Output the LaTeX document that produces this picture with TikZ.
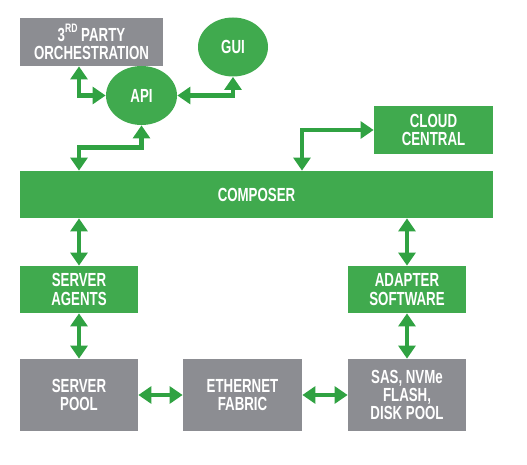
\documentclass[tikz,border=0pt]{standalone}
\usepackage{fontspec}
\setmainfont{Liberation Sans}[FakeStretch=0.70]
\usetikzlibrary{shapes,shapes.geometric,calc,positioning,arrows.meta}
\definecolor{boxgreen}{RGB}{64,170,78}
\definecolor{arrowgreen}{RGB}{48,162,66}
\definecolor{boxgray}{RGB}{140,141,146}

\begin{document}
\begin{tikzpicture}
	[x=1cm,y=-1cm,
	every node/.style={inner sep=1pt,text=white,align=center,
		font=\bfseries\fontsize{10.8}{10.4}\selectfont},
	greenbox/.style={shape=rectangle,fill=boxgreen},
	graybox/.style={shape=rectangle,fill=boxgray},
	bubble/.style={shape=ellipse,fill=boxgreen},
	link/.style={draw=arrowgreen,line width=2.8pt,
		{Triangle[width=9.6pt,length=7.4pt]}-{Triangle[width=9.6pt,length=7.4pt]}}]
	\useasboundingbox (0,0) rectangle (10.54,9.30);
	\node[graybox,minimum width=2.86cm,minimum height=0.96cm] (party) at (1.83,0.84)
		{3\raisebox{0.8ex}{\fontsize{7}{7}\selectfont RD} PARTY\\ORCHESTRATION};
	\node[bubble,minimum width=1.40cm,minimum height=1.18cm] (gui) at (4.66,0.94) {GUI};
	\node[bubble,minimum width=1.42cm,minimum height=1.18cm] (api) at (2.83,1.91) {API};
	\node[greenbox,minimum width=2.38cm,minimum height=0.96cm] (cloud) at (8.67,2.60) {CLOUD\\CENTRAL};
	\node[greenbox,minimum width=9.46cm,minimum height=0.94cm] (composer) at (5.13,3.89) {COMPOSER};
	\node[greenbox,minimum width=2.36cm,minimum height=0.94cm] (agents) at (1.58,5.79) {SERVER\\AGENTS};
	\node[greenbox,minimum width=2.36cm,minimum height=0.94cm] (adapter) at (8.14,5.79) {ADAPTER\\SOFTWARE};
	\node[graybox,minimum width=2.36cm,minimum height=1.44cm] (pool) at (1.58,7.90) {SERVER\\POOL};
	\node[graybox,minimum width=2.38cm,minimum height=1.44cm] (fabric) at (4.85,7.90) {ETHERNET\\FABRIC};
	\node[graybox,minimum width=2.36cm,minimum height=1.44cm] (storage) at (8.14,7.90) {SAS, NVMe\\FLASH,\\DISK POOL};
	% top part
	\draw[link] (party.south -| agents) |- (api.west);
	\draw[link] (api.east) -| (gui.south);
	\draw[link] (api.south) -- ++(0,0.44) -| (agents |- composer.north);
	\draw[link] ($(composer.north)+(0.91,0)$) |- (cloud.west);
	\draw[link] (agents |- composer.south) -- (agents.north);
	\draw[link] (adapter |- composer.south) -- (adapter.north);
	% bottom part
	\path
	\foreach \startNode/\endNode in {agents/pool,adapter/storage,pool/fabric,fabric/storage}
	{
		(\startNode) edge[link] (\endNode)
	};
\end{tikzpicture}
\end{document}
